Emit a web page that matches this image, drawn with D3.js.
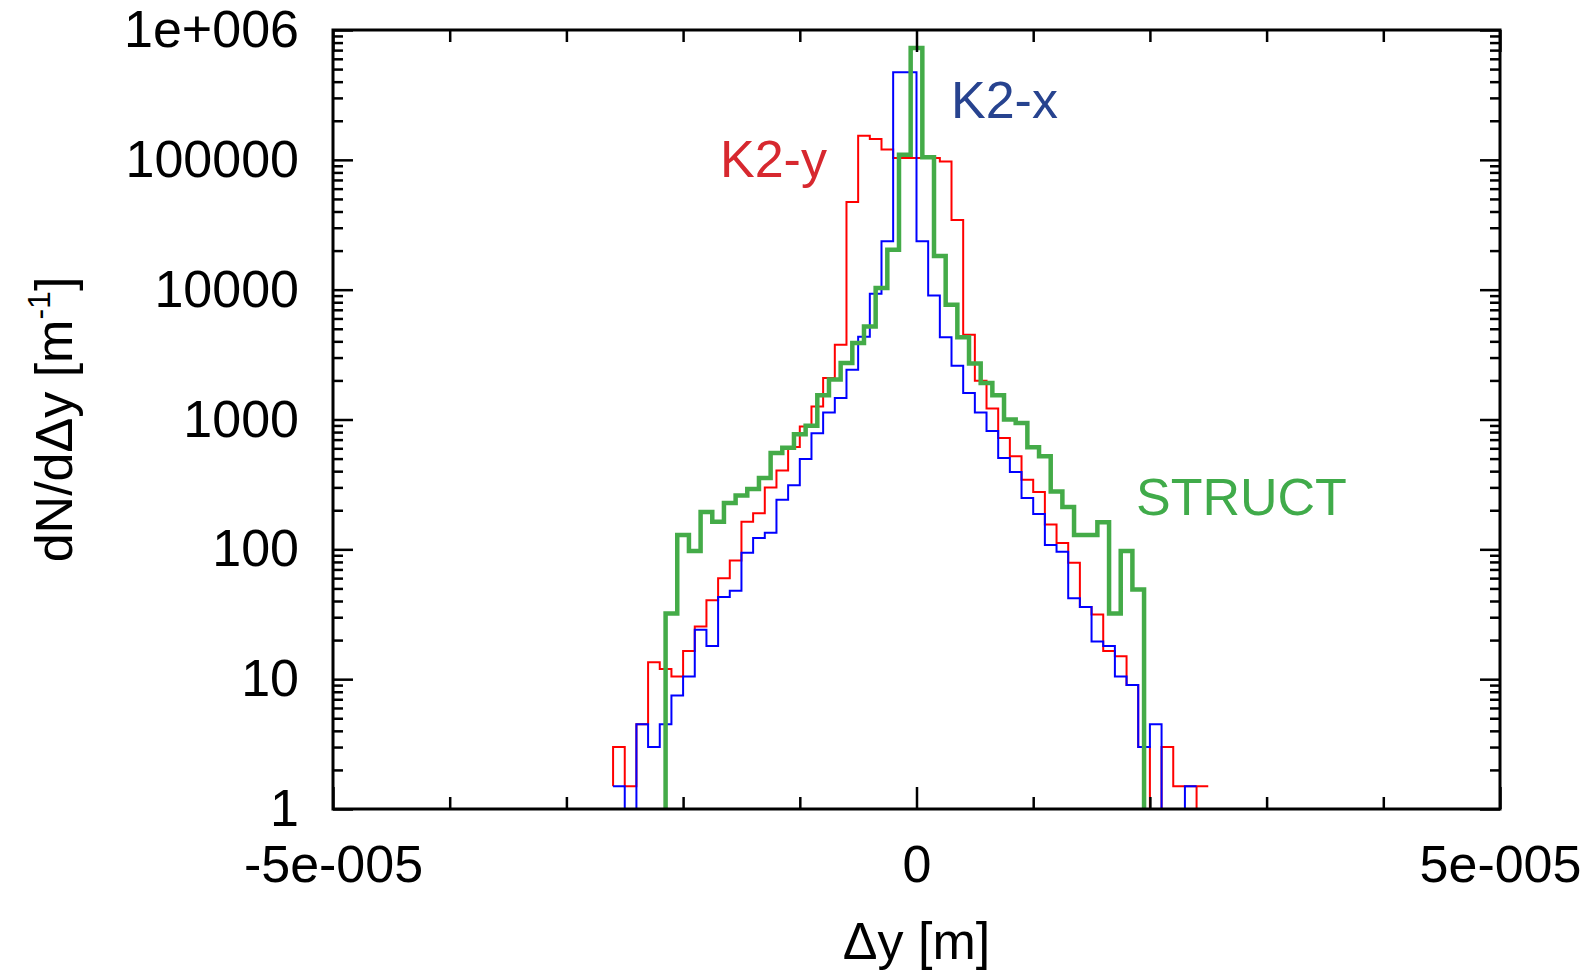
<!DOCTYPE html>
<html>
<head>
<meta charset="utf-8">
<title>dN/dΔy histograms</title>
<script src="https://cdnjs.cloudflare.com/ajax/libs/d3/7.8.5/d3.min.js"></script>
<style>
  body { margin: 0; background: #fff; }
  text { font-family: "Liberation Sans", Arial, Helvetica, sans-serif; }
</style>
</head>
<body>
<svg id="chart"></svg>
<script>
// step edges are in units of 1e-6 m, values are dN/dΔy [1/m]
// each point opens a step at its edge; a repeated edge gives a zero-width step
const k2yEdges = [-26, -26, -25, -24, -23, -22, -21, -20, -19, -18, -17, -16, -15, -14, -13, -12, -11, -10, -9, -8,
    -7, -6, -5, -4, -3, -2, -1, 0, 1, 2, 3, 4, 5, 6, 7, 8, 9, 10, 11, 12, 13, 14, 15, 16, 17, 18, 19, 20, 21, 22, 23, 24, 24, 25];
const k2yValues = [1.5, 3, 1.5, 4.5, 13.5, 12, 10.5, 16.5, 25.5, 40.5, 60, 82, 163, 190, 300, 405, 615, 885, 1260, 2090,
    3770, 47400, 153600, 145000, 120000, 103500, 103500, 103500, 103500, 97300, 34400, 4500, 1990, 1215, 720, 520, 344, 276, 155, 112, 79, 36, 31.5, 16.5, 15, 9, 3, 0, 3, 1.5, 1.5, 0, 1.5, 1.5];

const k2xEdges = [-26, -25, -24, -23, -22, -21, -20, -19, -18, -17, -16, -15, -14, -13, -12, -11, -10, -9, -8,
    -7, -6, -5, -4, -3, -2, -1, 0, 1, 2, 3, 4, 5, 6, 7, 8, 9, 10, 11, 12, 13, 14, 15, 16, 17, 18, 19, 20, 21, 22, 23, 24];
const k2xValues = [1.5, 0, 4.5, 3, 4.5, 7.5, 10.5, 24, 18, 43, 48, 94, 122, 134, 241, 311, 497, 785, 1130,
    1465, 2420, 4340, 9300, 23600, 472000, 472000, 23600, 9000, 4300, 2590, 1600, 1130, 815, 505, 394, 248, 187, 108, 96, 42, 36, 19.5, 18, 10.5, 9, 3, 4.5, 0, 0, 1.5, 1.5];

const structEdges = [-21.5, -21.5, -20.5, -19.5, -18.5, -17.5, -16.5, -15.5, -14.5, -13.5, -12.5, -11.5, -10.5, -9.5, -8.5,
    -7.5, -6.5, -5.5, -4.5, -3.5, -2.5, -1.5, -0.5, 0.5, 1.5, 2.5, 3.5, 4.5, 5.5, 6.5, 7.5, 8.5, 9.5, 10.5, 11.5, 12.5, 13.5, 14.5, 15.5, 16.5, 17.5, 18.5, 19.5];
const structValues = [0, 32, 129, 97, 194, 163, 227, 260, 291, 354, 552, 605, 770, 896, 1535,
    2030, 2720, 3880, 5200, 10300, 20300, 109600, 728000, 104500, 18200, 7660, 4300, 2700, 1910, 1540, 1000, 940, 610, 520, 279, 212, 129, 129, 162, 32, 97, 49, 0];

const xMajorTicks = [-5e-5, 0, 5e-5];
const xTickLabels = ["-5e-005", "0", "5e-005"];
const xMinorTicks = [-4e-5, -3e-5, -2e-5, -1e-5, 1e-5, 2e-5, 3e-5, 4e-5];
const yMajorTicks = [1, 10, 100, 1000, 1e4, 1e5, 1e6];
const yTickLabels = ["1", "10", "100", "1000", "10000", "100000", "1e+006"];

const width = 1590, height = 971;
const margin = {left: 333, right: 90, top: 30, bottom: 162};
const w = width - margin.left - margin.right;
const h = height - margin.top - margin.bottom;

const svg = d3.select("#chart").attr("width", width).attr("height", height);
const g = svg.append("g").attr("transform", `translate(${margin.left},${margin.top})`);

const x = d3.scaleLinear().domain([-5e-5, 5e-5]).range([0, w]);
const y = d3.scaleLog().domain([1, 1e6]).range([h, 0]);

// minor log ticks 2..9 in each decade
const yMinorTicks = [];
yMajorTicks.slice(0, -1).forEach(d => { for (let m = 2; m <= 9; m++) yMinorTicks.push(d * m); });

g.append("clipPath").attr("id", "plotClip")
    .append("rect").attr("width", w).attr("height", h);

const step = d3.line()
    .x(d => x(d[0] * 1e-6))
    .y(d => d[1] > 0 ? y(d[1]) : h + 20)
    .curve(d3.curveStepAfter);

const series = [
    {edges: k2yEdges, values: k2yValues, color: "#ff0000", width: 2},
    {edges: k2xEdges, values: k2xValues, color: "#0000ff", width: 2},
    {edges: structEdges, values: structValues, color: "#44ab48", width: 4.5}
];

const plot = g.append("g").attr("clip-path", "url(#plotClip)");
series.forEach(s => {
    plot.append("path")
        .datum(s.edges.map((e, i) => [e, s.values[i]]))
        .attr("fill", "none")
        .attr("stroke", s.color)
        .attr("stroke-width", s.width)
        .attr("stroke-linejoin", "miter")
        .attr("d", step);
});

function styleAxis(sel) {
    sel.select(".domain").remove();
    sel.selectAll("line").attr("stroke", "#000").attr("stroke-width", 2.5);
    sel.selectAll("text").attr("font-size", 52).attr("fill", "#000")
        .attr("font-family", '"Liberation Sans", Arial, Helvetica, sans-serif');
}

// bottom and top
g.append("g").attr("transform", `translate(0,${h})`)
    .call(d3.axisBottom(x).tickValues(xMinorTicks).tickSize(-12).tickFormat("")).call(styleAxis);
g.append("g").attr("transform", `translate(0,${h})`)
    .call(d3.axisBottom(x).tickValues(xMajorTicks).tickSize(-22).tickPadding(36)
        .tickFormat((d, i) => xTickLabels[i])).call(styleAxis);
g.append("g")
    .call(d3.axisTop(x).tickValues(xMinorTicks).tickSize(-12).tickFormat("")).call(styleAxis);
g.append("g")
    .call(d3.axisTop(x).tickValues(xMajorTicks).tickSize(-22).tickFormat("")).call(styleAxis);

// left and right
g.append("g")
    .call(d3.axisLeft(y).tickValues(yMinorTicks).tickSize(-10).tickFormat("")).call(styleAxis);
g.append("g")
    .call(d3.axisLeft(y).tickValues(yMajorTicks).tickSize(-20).tickPadding(34)
        .tickFormat((d, i) => yTickLabels[i])).call(styleAxis);
g.append("g").attr("transform", `translate(${w},0)`)
    .call(d3.axisRight(y).tickValues(yMinorTicks).tickSize(-10).tickFormat("")).call(styleAxis);
g.append("g").attr("transform", `translate(${w},0)`)
    .call(d3.axisRight(y).tickValues(yMajorTicks).tickSize(-20).tickFormat("")).call(styleAxis);

g.append("rect")
    .attr("width", w).attr("height", h)
    .attr("fill", "none").attr("stroke", "#000").attr("stroke-width", 3);

// axis titles
svg.append("text")
    .attr("x", margin.left + x(0)).attr("y", 959)
    .attr("text-anchor", "middle").attr("font-size", 52)
    .text("Δy [m]");

const yTitle = svg.append("text")
    .attr("transform", `translate(72,${margin.top + h / 2}) rotate(-90)`)
    .attr("text-anchor", "middle").attr("font-size", 52);
yTitle.append("tspan").text("dN/dΔy [m");
yTitle.append("tspan").attr("font-size", 32).attr("dy", -22).text("-1");
yTitle.append("tspan").attr("dy", 22).text("]");

// series labels
const labels = [
    {text: "K2-y", color: "#d7282f", x: 720, y: 177},
    {text: "K2-x", color: "#27438f", x: 951, y: 118},
    {text: "STRUCT", color: "#40ab4a", x: 1136, y: 515}
];
svg.selectAll(".series-label").data(labels).join("text")
    .attr("class", "series-label")
    .attr("x", d => d.x).attr("y", d => d.y)
    .attr("font-size", 52).attr("fill", d => d.color)
    .text(d => d.text);
</script>
</body>
</html>
